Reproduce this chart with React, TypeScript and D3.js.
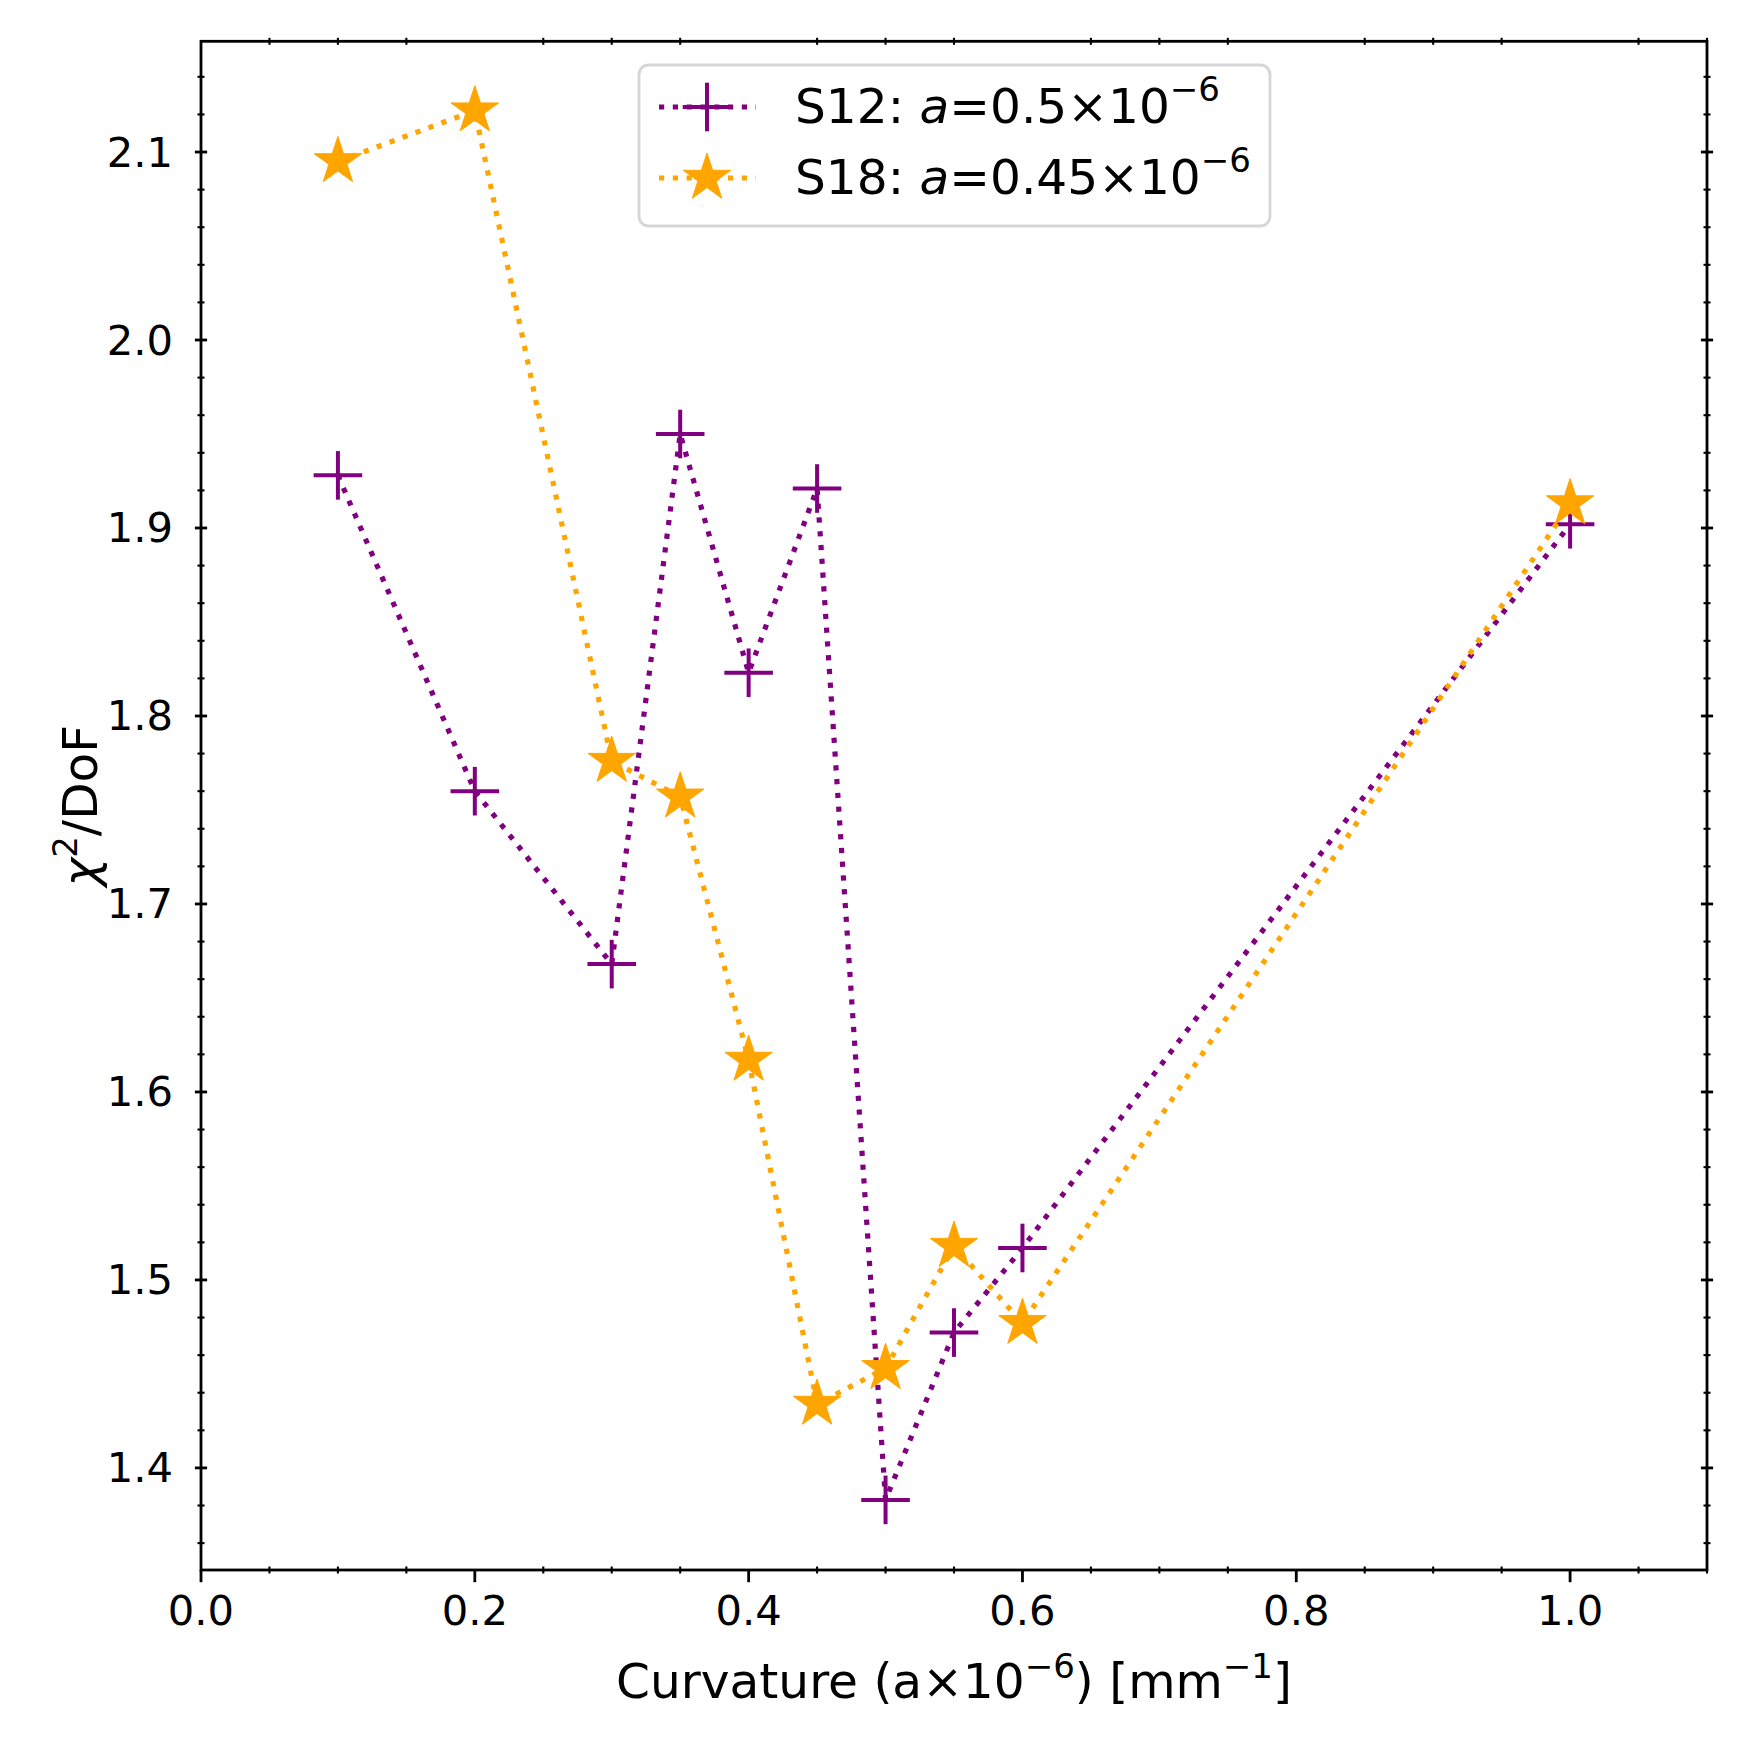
import React from 'react';
import * as d3 from 'd3';

// curvature values (a x 1e-6)
const curvature = [0.1, 0.2, 0.3, 0.35, 0.4, 0.45, 0.5, 0.55, 0.6, 1.0];
// chi2 / DoF per sample
const s12Chi2 = [1.928, 1.760, 1.668, 1.950, 1.823, 1.921, 1.383, 1.472, 1.517, 1.902];
const s18Chi2 = [2.095, 2.122, 1.776, 1.757, 1.617, 1.434, 1.453, 1.518, 1.477, 1.913];

const xMajor = [0.0, 0.2, 0.4, 0.6, 0.8, 1.0];
const yMajor = [1.4, 1.5, 1.6, 1.7, 1.8, 1.9, 2.0, 2.1];

const PURPLE = '#800080';
const ORANGE = '#FFA500';
const FONT = 'DejaVu Sans, sans-serif';

const W = 1750;
const H = 1750;
const plot = { left: 201, right: 1707, top: 41.3, bottom: 1570 };

export default function App() {
  const x = d3.scaleLinear().domain([0, 1.1]).range([plot.left, plot.right]);
  const y = d3.scaleLinear().domain([1.3457, 2.1589]).range([plot.bottom, plot.top]);

  const xMinor = d3.range(0, 1.1001, 0.05).filter(v => !xMajor.some(m => Math.abs(m - v) < 1e-6));
  const yMinor = d3.range(1.36, 2.16, 0.02).filter(v => !yMajor.some(m => Math.abs(m - v) < 1e-6));

  const line = d3.line<number>()
    .x((_, i) => x(curvature[i]))
    .y(d => y(d));

  const star = d3.symbol(d3.symbolStar, 25 * 25 / 0.8908130915292852)();
  const plusHalf = 24.3;
  const dotted = { strokeWidth: 5.2, dash: '5.2 8.6' };

  const tickFont = 41.7;
  const labelFont = 48.6;
  const supFont = 34;

  return (
    <div style={{ position: 'absolute', left: 0, top: 0 }}>
      <svg width={W} height={H} style={{ display: 'block', background: '#fff' }} fontFamily={FONT}>
        <rect width={W} height={H} fill="#fff" />

        {/* S12 */}
        <path d={line(s12Chi2) || ''} fill="none" stroke={PURPLE}
          strokeWidth={dotted.strokeWidth} strokeDasharray={dotted.dash} />
        {s12Chi2.map((v, i) => (
          <g key={`p${i}`} transform={`translate(${x(curvature[i])},${y(v)})`} stroke={PURPLE} strokeWidth={4}>
            <line x1={-plusHalf} x2={plusHalf} y1={0} y2={0} />
            <line x1={0} x2={0} y1={-plusHalf} y2={plusHalf} />
          </g>
        ))}

        {/* S18 */}
        <path d={line(s18Chi2) || ''} fill="none" stroke={ORANGE}
          strokeWidth={dotted.strokeWidth} strokeDasharray={dotted.dash} />
        {s18Chi2.map((v, i) => (
          <path key={`s${i}`} d={star || ''} transform={`translate(${x(curvature[i])},${y(v)})`}
            fill={ORANGE} stroke={ORANGE} strokeWidth={1} />
        ))}

        {/* frame */}
        <rect x={plot.left} y={plot.top} width={plot.right - plot.left} height={plot.bottom - plot.top}
          fill="none" stroke="#000" strokeWidth={2.8} />

        {/* x ticks */}
        {xMajor.map(v => (
          <g key={`xm${v}`}>
            <line x1={x(v)} x2={x(v)} y1={plot.bottom} y2={plot.bottom + 12.2} stroke="#000" strokeWidth={2.8} />
            <text x={x(v)} y={1625} textAnchor="middle" fontSize={tickFont}>{v.toFixed(1)}</text>
          </g>
        ))}
        {xMinor.map(v => (
          <g key={`xn${v.toFixed(2)}`} stroke="#000" strokeWidth={2.1}>
            <line x1={x(v)} x2={x(v)} y1={plot.bottom - 3.5} y2={plot.bottom + 3.5} />
            <line x1={x(v)} x2={x(v)} y1={plot.top - 3.5} y2={plot.top + 3.5} />
          </g>
        ))}

        {/* y ticks */}
        {yMajor.map(v => (
          <g key={`ym${v}`}>
            <line x1={plot.left - 6.1} x2={plot.left + 6.1} y1={y(v)} y2={y(v)} stroke="#000" strokeWidth={2.8} />
            <line x1={plot.right - 6.1} x2={plot.right + 6.1} y1={y(v)} y2={y(v)} stroke="#000" strokeWidth={2.8} />
            <text x={173} y={y(v)} textAnchor="end" dominantBaseline="central" fontSize={tickFont}>{v.toFixed(1)}</text>
          </g>
        ))}
        {yMinor.map(v => (
          <g key={`yn${v.toFixed(2)}`} stroke="#000" strokeWidth={2.1}>
            <line x1={plot.left - 3.5} x2={plot.left + 3.5} y1={y(v)} y2={y(v)} />
            <line x1={plot.right - 3.5} x2={plot.right + 3.5} y1={y(v)} y2={y(v)} />
          </g>
        ))}

        {/* axis titles */}
        <text x={(plot.left + plot.right) / 2} y={1698} textAnchor="middle" fontSize={labelFont}>
          Curvature (a×10<tspan dy={-20} fontSize={supFont}>−6</tspan><tspan dy={20}>) [mm</tspan>
          <tspan dy={-20} fontSize={supFont}>−1</tspan><tspan dy={20}>]</tspan>
        </text>
        <text transform={`translate(97,${(plot.top + plot.bottom) / 2}) rotate(-90)`} textAnchor="middle" fontSize={labelFont}>
          <tspan fontStyle="italic">χ</tspan><tspan dy={-20} fontSize={supFont}>2</tspan><tspan dy={20}>/DoF</tspan>
        </text>

        {/* legend */}
        <rect x={639} y={65} width={631} height={161} rx={9.7} fill="#fff" fillOpacity={0.8}
          stroke="#d6d6d6" strokeWidth={2.8} />
        <g>
          <line x1={659} x2={756} y1={107} y2={107} stroke={PURPLE}
            strokeWidth={dotted.strokeWidth} strokeDasharray={dotted.dash} />
          <g transform="translate(707,107)" stroke={PURPLE} strokeWidth={4}>
            <line x1={-plusHalf} x2={plusHalf} y1={0} y2={0} />
            <line x1={0} x2={0} y1={-plusHalf} y2={plusHalf} />
          </g>
          <text x={795} y={123} fontSize={labelFont}>
            S12: <tspan fontStyle="italic">a</tspan>=0.5×10<tspan dy={-22} fontSize={supFont}>−6</tspan>
          </text>
        </g>
        <g>
          <line x1={659} x2={756} y1={178} y2={178} stroke={ORANGE}
            strokeWidth={dotted.strokeWidth} strokeDasharray={dotted.dash} />
          <path d={star || ''} transform="translate(707,178)" fill={ORANGE} stroke={ORANGE} strokeWidth={1} />
          <text x={795} y={194} fontSize={labelFont}>
            S18: <tspan fontStyle="italic">a</tspan>=0.45×10<tspan dy={-22} fontSize={supFont}>−6</tspan>
          </text>
        </g>
      </svg>
    </div>
  );
}
